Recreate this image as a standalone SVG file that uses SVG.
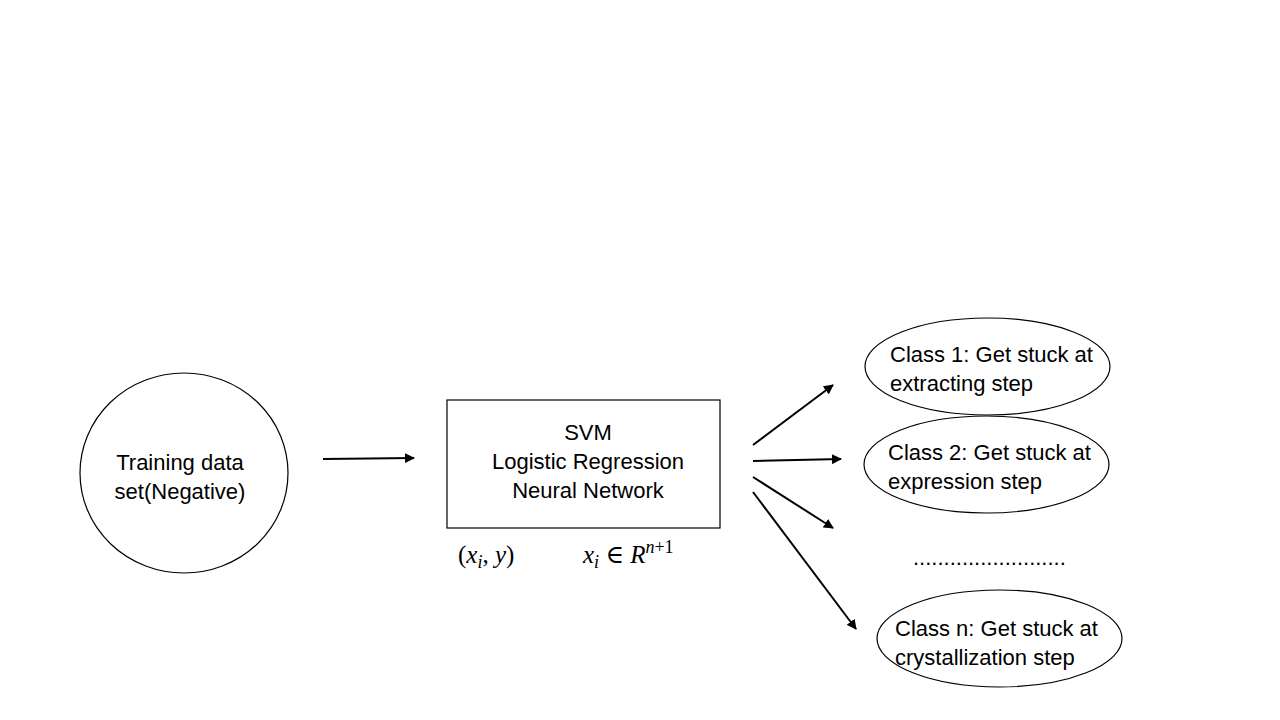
<svg xmlns="http://www.w3.org/2000/svg" width="1280" height="720" viewBox="0 0 1280 720">
<defs>
<style>
.shape{fill:#fff;stroke:#000;stroke-width:1.2}
.t{font-family:"Liberation Sans","Noto Sans",sans-serif;font-size:22px;fill:#000}
.m{font-family:"Liberation Serif","DejaVu Serif",serif;font-size:25px;fill:#000}
.c{stroke:#000;stroke-width:2;fill:none;marker-end:url(#ah)}
</style>
<marker id="ah" viewBox="0 0 10 10" refX="9" refY="5" markerWidth="5" markerHeight="5" orient="auto" markerUnits="strokeWidth">
<path d="M0,0 L10,5 L0,10 Z" fill="#000"/>
</marker>
</defs>
<rect width="1280" height="720" fill="#fff"/>
<g id="training">
<ellipse class="shape" cx="184" cy="473" rx="104" ry="100"/>
<text class="t" x="180" y="470" text-anchor="middle" font-size="22.5">Training data</text>
<text class="t" x="180" y="499" text-anchor="middle" font-size="22.5">set(Negative)</text>
</g>
<g id="models">
<rect class="shape" x="447" y="400" width="273" height="128"/>
<text class="t" x="588" y="440" text-anchor="middle">SVM</text>
<text class="t" x="588" y="469" text-anchor="middle">Logistic Regression</text>
<text class="t" x="588" y="498" text-anchor="middle">Neural Network</text>
</g>
<g id="math">
<text class="m" x="458" y="563">(<tspan font-style="italic">x</tspan><tspan font-style="italic" font-size="18" dy="5">i</tspan><tspan dy="-5">, </tspan><tspan font-style="italic">y</tspan>)</text>
<text class="m" x="583" y="563"><tspan font-style="italic">x</tspan><tspan font-style="italic" font-size="18" dy="5">i</tspan><tspan dy="-5"> ∈ </tspan><tspan font-style="italic">R</tspan><tspan font-style="italic" font-size="18" dy="-10">n</tspan><tspan font-size="18">+1</tspan></text>
</g>
<g id="class1">
<ellipse class="shape" cx="987.5" cy="366.5" rx="122.5" ry="48.5"/>
<text class="t" x="890" y="362">Class 1: Get stuck at</text>
<text class="t" x="890" y="391">extracting step</text>
</g>
<g id="class2">
<ellipse class="shape" cx="986.5" cy="464.5" rx="122.5" ry="48.5"/>
<text class="t" x="888" y="460">Class 2: Get stuck at</text>
<text class="t" x="888" y="489">expression step</text>
</g>
<g id="dots">
<text class="t" x="913" y="565" font-size="16">.........................</text>
</g>
<g id="classn">
<ellipse class="shape" cx="999.5" cy="638.5" rx="122.5" ry="48.5"/>
<text class="t" x="895" y="636">Class n: Get stuck at</text>
<text class="t" x="895" y="665">crystallization step</text>
</g>
<g id="connectors">
<line class="c" x1="323" y1="459" x2="414" y2="458"/>
<line class="c" x1="753" y1="445" x2="833" y2="385"/>
<line class="c" x1="753" y1="461" x2="841" y2="459"/>
<line class="c" x1="753" y1="477" x2="833" y2="528"/>
<line class="c" x1="753" y1="492" x2="856" y2="629"/>
</g>
</svg>
